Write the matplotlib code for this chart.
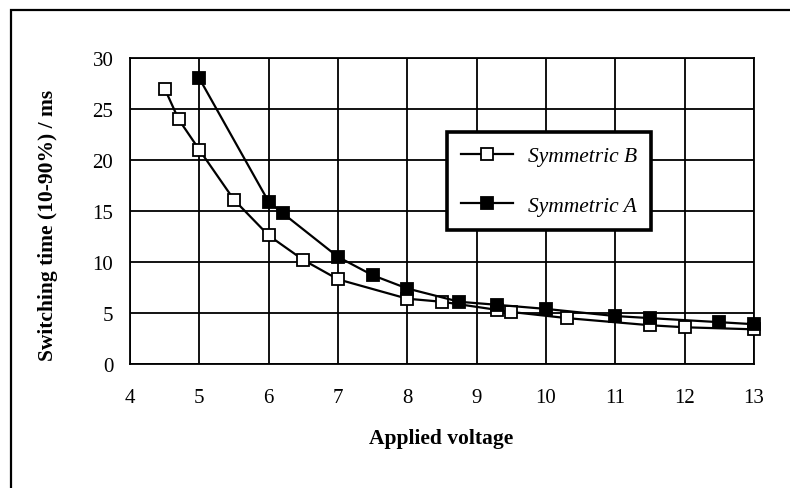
import matplotlib.pyplot as plt
from matplotlib.patches import Rectangle

plt.rcParams['font.family'] = ['Liberation Serif', 'DejaVu Serif']

# switching time vs applied voltage for the two cell types
volt_b = [4.5, 4.7, 5.0, 5.5, 6.0, 6.5, 7.0, 8.0, 8.5, 9.3, 9.5, 10.3, 11.5, 12.0, 13.0]
time_b = [27.0, 24.0, 21.0, 16.1, 12.6, 10.2, 8.3, 6.4, 6.1, 5.3, 5.1, 4.5, 3.8, 3.6, 3.4]

volt_a = [5.0, 6.0, 6.2, 7.0, 7.5, 8.0, 8.75, 9.3, 10.0, 11.0, 11.5, 12.5, 13.0]
time_a = [28.0, 15.9, 14.8, 10.5, 8.7, 7.4, 6.1, 5.8, 5.4, 4.7, 4.5, 4.1, 3.9]

xticks = list(range(4, 14))
yticks = list(range(0, 31, 5))

fig = plt.figure(figsize=(7.9, 4.89), dpi=100)
ax = fig.add_axes([130 / 790, 1 - 365 / 489, 624 / 790, 306 / 489])

# outer frame, only left and top edges show
fig.patches.append(Rectangle((11 / 790, -0.1), 1.2, 1 - 11 / 489 + 0.1,
                             transform=fig.transFigure, fill=False,
                             edgecolor='black', linewidth=1.6))

ax.plot(volt_b, time_b, color='black', lw=1.6, marker='s', ms=8.5,
        mfc='white', mec='black', mew=1.3, label='Symmetric B', clip_on=False, zorder=3)
ax.plot(volt_a, time_a, color='black', lw=1.6, marker='s', ms=8.5,
        mfc='black', mec='black', mew=1.3, label='Symmetric A', clip_on=False, zorder=4)

ax.set_xlim(4, 13)
ax.set_ylim(0, 30)
ax.set_xticks(xticks)
ax.set_yticks(yticks)
ax.grid(True, color='black', lw=1.3)
ax.set_axisbelow(True)
for s in ax.spines.values():
    s.set_linewidth(1.3)
ax.tick_params(axis='both', length=0, labelsize=15)
ax.tick_params(axis='x', pad=17)
ax.tick_params(axis='y', pad=12)

ax.set_xlabel('Applied voltage', fontsize=15.5, fontweight='bold')
ax.set_ylabel('Switching time (10-90%) / ms', fontsize=15.5, fontweight='bold')
ax.xaxis.set_label_coords(0.498, -0.21)
ax.yaxis.set_label_coords(-0.115, 0.457)

leg = ax.legend(loc='upper left', bbox_to_anchor=(447 / 790, 1 - 133 / 489),
                bbox_transform=fig.transFigure, borderaxespad=0,
                fancybox=False, framealpha=1, edgecolor='black',
                prop={'style': 'italic', 'size': 15.5},
                numpoints=1, handlelength=2.4, handletextpad=0.7,
                labelspacing=1.37, borderpad=0.65)
leg.get_frame().set_linewidth(2.6)

fig.savefig('out.png', dpi=100)
